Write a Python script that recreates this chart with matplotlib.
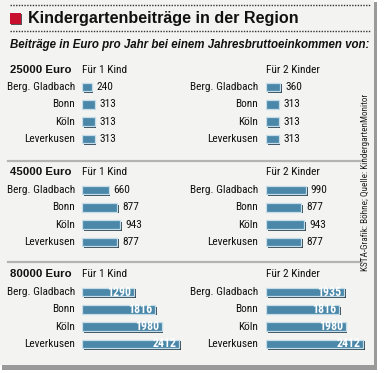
import matplotlib
matplotlib.use("Agg")
import matplotlib.pyplot as plt
import matplotlib.patheffects as pe
from matplotlib.patches import Rectangle
from matplotlib import font_manager

# Data
cities = ["Berg. Gladbach", "Bonn", "Köln", "Leverkusen"]
income_labels = ["25000 Euro", "45000 Euro", "80000 Euro"]
group_labels = ["Für 1 Kind", "Für 2 Kinder"]
one_child = [
    [240, 313, 313, 313],
    [660, 877, 943, 877],
    [1290, 1816, 1980, 2412],
]
two_children = [
    [360, 313, 313, 313],
    [990, 877, 943, 877],
    [1935, 1816, 1980, 2412],
]

W, H = 384, 373
installed = {f.name for f in font_manager.fontManager.ttflist}
narrow_name = next((n for n in ["Roboto Condensed", "Liberation Sans Narrow", "DejaVu Sans Condensed"]
                    if n in installed), None)
if narrow_name:
    NARROW, NSIZE = [narrow_name, "DejaVu Sans"], 8.2
else:
    NARROW, NSIZE = ["Roboto", "DejaVu Sans"], 6.8
BAR = "#4a87a8"

fig = plt.figure(figsize=(W / 100, H / 100), dpi=100)
fig.patch.set_facecolor("white")

# full-figure pixel axes for decorations and text
bg = fig.add_axes([0, 0, 1, 1])
bg.set_xlim(0, W)
bg.set_ylim(H, 0)
bg.axis("off")

# panel with shadow
bg.add_patch(Rectangle((2, 2), 375, 368, facecolor="#9a9a9a", edgecolor="none", zorder=0))
bg.add_patch(Rectangle((0, 0), 374, 365, facecolor="#f3f3f1", edgecolor="none", zorder=0.1))

# title
bg.plot([10, 370], [5, 5], color="#333333", lw=1, ls=(0, (1, 1)), zorder=1)
bg.plot([10, 370], [31, 31], color="#333333", lw=1, ls=(0, (1, 1)), zorder=1)
bg.add_patch(Rectangle((11, 14), 11, 11, facecolor="#555555", edgecolor="none", zorder=1))
bg.add_patch(Rectangle((10, 13), 11, 11, facecolor="#c8102e", edgecolor="none", zorder=2))
bg.text(28, 18.5, "Kindergartenbeiträge in der Region", fontsize=11.6, fontweight="bold",
        family="Liberation Sans", va="center", ha="left", color="#111111")
bg.text(10, 45, "Beiträge in Euro pro Jahr bei einem Jahresbruttoeinkommen von:", fontsize=8.3,
        fontweight="bold", style="italic", family="Liberation Sans", va="center", ha="left",
        color="#111111")

# source
bg.text(366, 182, "KSTA-Grafik: Böhne; Quelle: KindergartenMonitor", rotation=90,
        fontsize=NSIZE * 0.8, family=NARROW, va="center", ha="center", color="#222222")

# separators
for y in [161, 262]:
    bg.plot([8, 362], [y, y], color="#b4b4b4", lw=1.6, zorder=1)

header_y = [70, 172, 274]
row0_y = [87, 190, 292]
row_gap = 17.3
group_x = [82, 266]
label_x = [75, 258]
px_per_unit = 97 / 2412
ax_w = 115

for s in range(3):
    bg.text(10, header_y[s], income_labels[s], fontsize=8.2, fontweight="bold",
            family="Liberation Sans", va="center", ha="left", color="#111111")
    for g, values in enumerate([one_child[s], two_children[s]]):
        bg.text(group_x[g], header_y[s], group_labels[g], fontsize=NSIZE, family=NARROW,
                va="center", ha="left", color="#111111")
        for i, c in enumerate(cities):
            bg.text(label_x[g], row0_y[s] + i * row_gap, c, fontsize=NSIZE, family=NARROW,
                    va="center", ha="right", color="#111111")

        top = row0_y[s] - row_gap / 2
        ax = fig.add_axes([group_x[g] / W, 1 - (top + 4 * row_gap) / H, ax_w / W, 4 * row_gap / H])
        ax.set_xlim(0, ax_w / px_per_unit)
        ax.set_ylim(3.5, -0.5)
        ax.axis("off")
        bars = ax.barh(range(4), values, height=0.5, color=BAR, edgecolor="#c4dde9", linewidth=0.9)
        for b in bars:
            b.set_path_effects([pe.SimplePatchShadow(offset=(1.3, -1.3), shadow_rgbFace="#1e3644", alpha=0.9),
                                pe.Normal()])
        for i, v in enumerate(values):
            if s < 2:
                ax.text(v + 5 / px_per_unit, i, str(v), fontsize=NSIZE, family=NARROW,
                        va="center", ha="left", color="#111111")
            else:
                ax.text(v - 2.5 / px_per_unit, i, str(v), fontsize=NSIZE + 0.4, fontweight="bold",
                        family=NARROW, va="center", ha="right", color="white")

fig.savefig("out.png", dpi=100, facecolor="white")
